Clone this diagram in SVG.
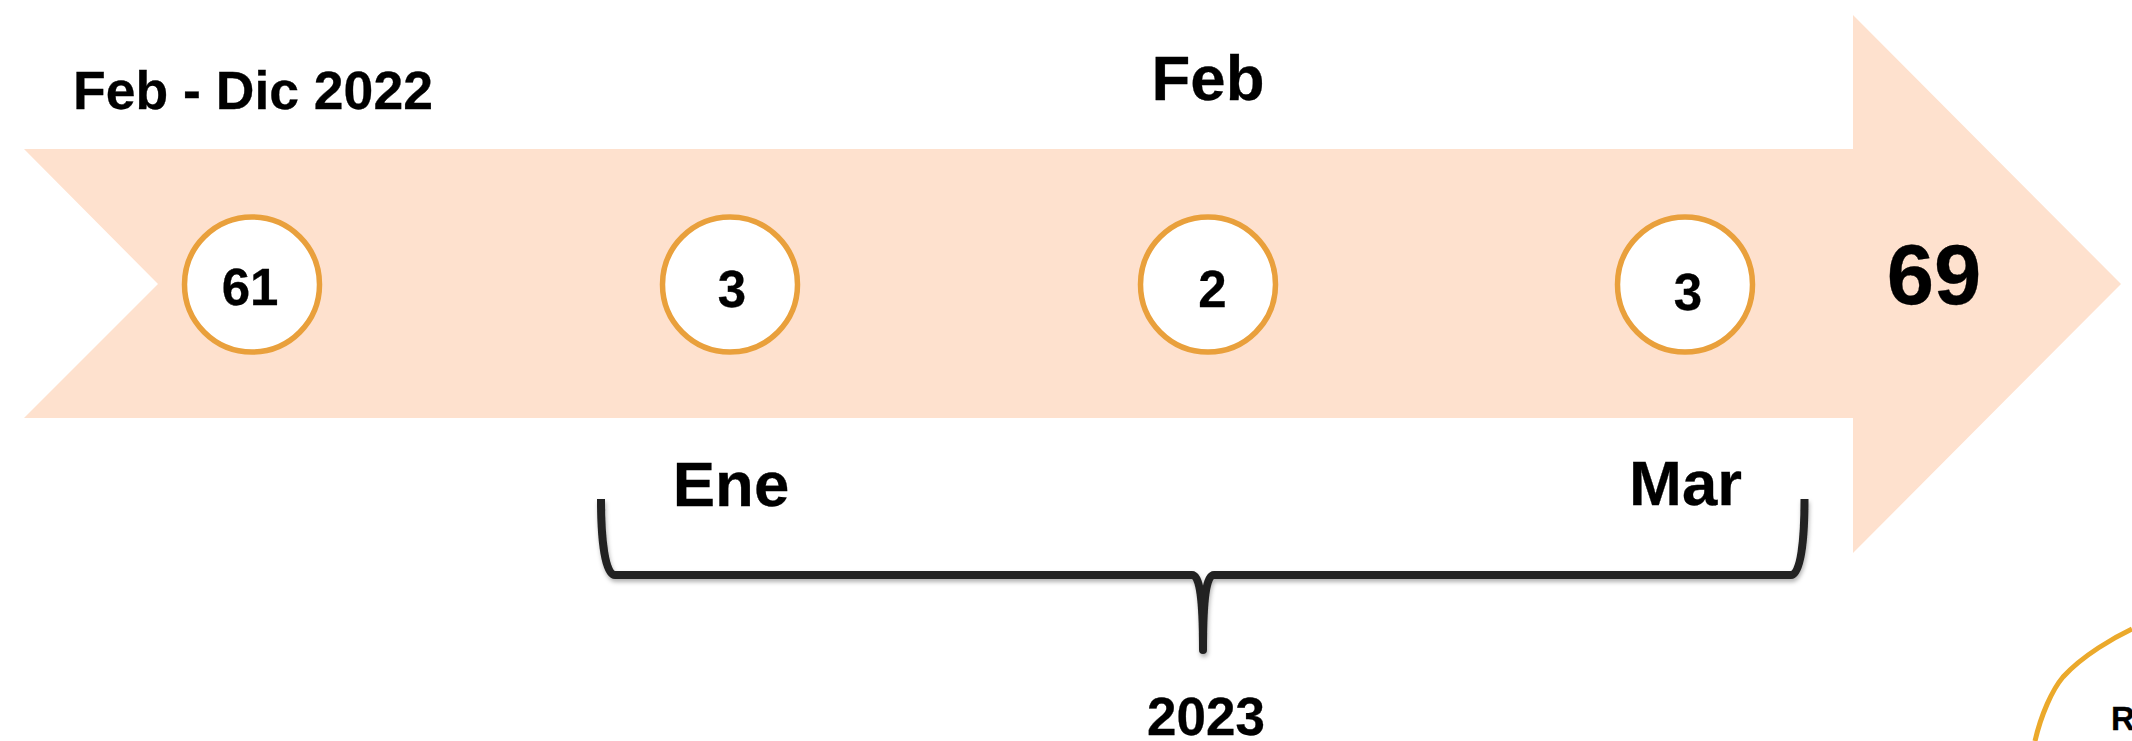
<svg xmlns="http://www.w3.org/2000/svg" width="2132" height="741" viewBox="0 0 2132 741">
<style>
text{font-family:"Liberation Sans",Arial,sans-serif;font-weight:700;fill:#000;stroke:#000;stroke-width:.3px;text-anchor:middle}
.c{fill:#fff;stroke:#E9A03C;stroke-width:5.500}
.n{font-size:51px}
.m{font-size:63.500px}
.b{fill:none;stroke:#222;stroke-width:8;stroke-linejoin:round}
</style>
<defs><filter id="s" x="-5%" y="-20%" width="110%" height="150%"><feDropShadow dx="1" dy="3" stdDeviation="2" flood-color="#000" flood-opacity="0.3"/></filter></defs>
<rect width="2132" height="741" fill="#fff"/>
<g id="arrow"><polygon points="24,149 1853,149 1853,15 2121,284 1853,553 1853,418 24,418 158,284" fill="#FEE1CE"/></g>
<g id="label-feb-dic"><text x="253" y="109" font-size="53.500">Feb - Dic 2022</text></g>
<g id="label-feb"><text x="1208" y="100" class="m">Feb</text></g>
<g id="node-61"><circle class="c" cx="252" cy="284.500" r="67.500"/><text class="n" x="250" y="305">61</text></g>
<g id="node-3a"><circle class="c" cx="730" cy="284.500" r="67.500"/><text class="n" x="732" y="307">3</text></g>
<g id="node-2"><circle class="c" cx="1208" cy="284.500" r="67.500"/><text class="n" x="1212.500" y="307">2</text></g>
<g id="node-3b"><circle class="c" cx="1685" cy="284.500" r="67.500"/><text class="n" x="1688" y="310">3</text></g>
<g id="total"><text x="1934" y="304" font-size="85">69</text></g>
<g id="label-ene"><text x="731" y="506" class="m">Ene</text></g>
<g id="label-mar"><text x="1685.500" y="505" class="m">Mar</text></g>
<g id="connectors"><path class="b" filter="url(#s)" d="M601 499C601 540 605 575 615 575H1192C1200 575 1203 600 1203 650C1203 600 1206 575 1214 575H1791C1801 575 1804.500 540 1804.500 499"/></g>
<g id="label-2023"><text x="1206" y="735" font-size="53">2023</text></g>
<g id="corner"><path d="M2132 629C2115 637 2083 655 2063 677C2052 690 2041 715 2035 741" fill="none" stroke="#EBA92B" stroke-width="5"/><text x="2111" y="730" font-size="33" style="text-anchor:start">Ro</text></g>
</svg>
